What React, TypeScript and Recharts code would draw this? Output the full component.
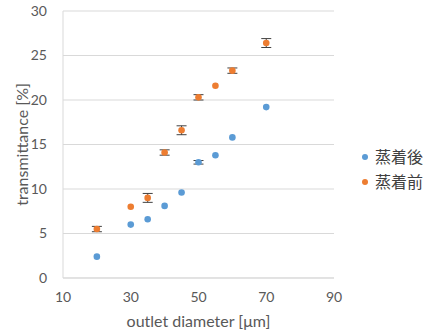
import { ScatterChart, Scatter, XAxis, YAxis, CartesianGrid, ErrorBar } from 'recharts'

const diameters = [20, 30, 35, 40, 45, 50, 55, 60, 70]
const afterValues = [2.4, 6.0, 6.6, 8.1, 9.6, 13.0, 13.8, 15.8, 19.2]
const afterErrors = [0, 0, 0, 0, 0, 0.2, 0, 0, 0]
const beforeValues = [5.5, 8.0, 9.0, 14.1, 16.6, 20.3, 21.6, 23.3, 26.4]
const beforeErrors = [0.3, 0, 0.5, 0.3, 0.5, 0.3, 0, 0.3, 0.5]
const xTicks = [10, 30, 50, 70, 90]
const yTicks = [0, 5, 10, 15, 20, 25, 30]
const seriesNames = ['蒸着後', '蒸着前']
const seriesColors = ['#5B9BD5', '#ED7D31']

const afterData = diameters.map((x, i) => ({ x, y: afterValues[i], err: afterErrors[i] }))
const beforeData = diameters.map((x, i) => ({ x, y: beforeValues[i], err: beforeErrors[i] }))

const FONT = 'Lato, "Noto Sans CJK JP", sans-serif'
const tick = { fill: '#595959', fontSize: 14, fontFamily: FONT }

export default function App() {
  return (
    <div style={{ position: 'absolute', left: 0, top: 0, width: 431, height: 330, background: '#fff' }}>
      <ScatterChart width={431} height={330} margin={{ top: 11, right: 97, bottom: 0, left: 0 }}>
        <CartesianGrid vertical={false} stroke="#d9d9d9" />
        <XAxis type="number" dataKey="x" domain={[10, 90]} ticks={xTicks} stroke="#d9d9d9" height={52}
          tick={tick} tickLine={false} tickMargin={8}
          label={{ value: 'outlet diameter [μm]', position: 'insideBottom', offset: 3, fill: '#595959', fontSize: 16, fontFamily: FONT }} />
        <YAxis type="number" dataKey="y" domain={[0, 30]} ticks={yTicks} width={63} stroke="#d9d9d9"
          tick={tick} tickLine={false} tickMargin={10}
          label={{ value: 'transmittance [%]', angle: -90, position: 'insideLeft', offset: 22, fill: '#595959', fontSize: 16, fontFamily: FONT, style: { textAnchor: 'middle' } }} />
        <Scatter name={seriesNames[0]} data={afterData} fill={seriesColors[0]} isAnimationActive={false}
          shape={(p: any) => <circle cx={p.cx} cy={p.cy} r={3.3} fill={seriesColors[0]} />}>
          <ErrorBar dataKey="err" direction="y" width={5} stroke="#404040" strokeWidth={1} />
        </Scatter>
        <Scatter name={seriesNames[1]} data={beforeData} fill={seriesColors[1]} isAnimationActive={false}
          shape={(p: any) => <circle cx={p.cx} cy={p.cy} r={3.3} fill={seriesColors[1]} />}>
          <ErrorBar dataKey="err" direction="y" width={5} stroke="#404040" strokeWidth={1} />
        </Scatter>
      </ScatterChart>
      <div style={{ position: 'absolute', left: 362, top: 144, fontFamily: FONT, fontSize: 16, color: '#404040', lineHeight: '25px' }}>
        {seriesNames.map((n, i) => (
          <div key={n} style={{ display: 'flex', alignItems: 'center' }}>
            <span style={{ width: 6, height: 6, borderRadius: '50%', background: seriesColors[i], marginRight: 7, display: 'inline-block' }} />
            {n}
          </div>
        ))}
      </div>
    </div>
  )
}
